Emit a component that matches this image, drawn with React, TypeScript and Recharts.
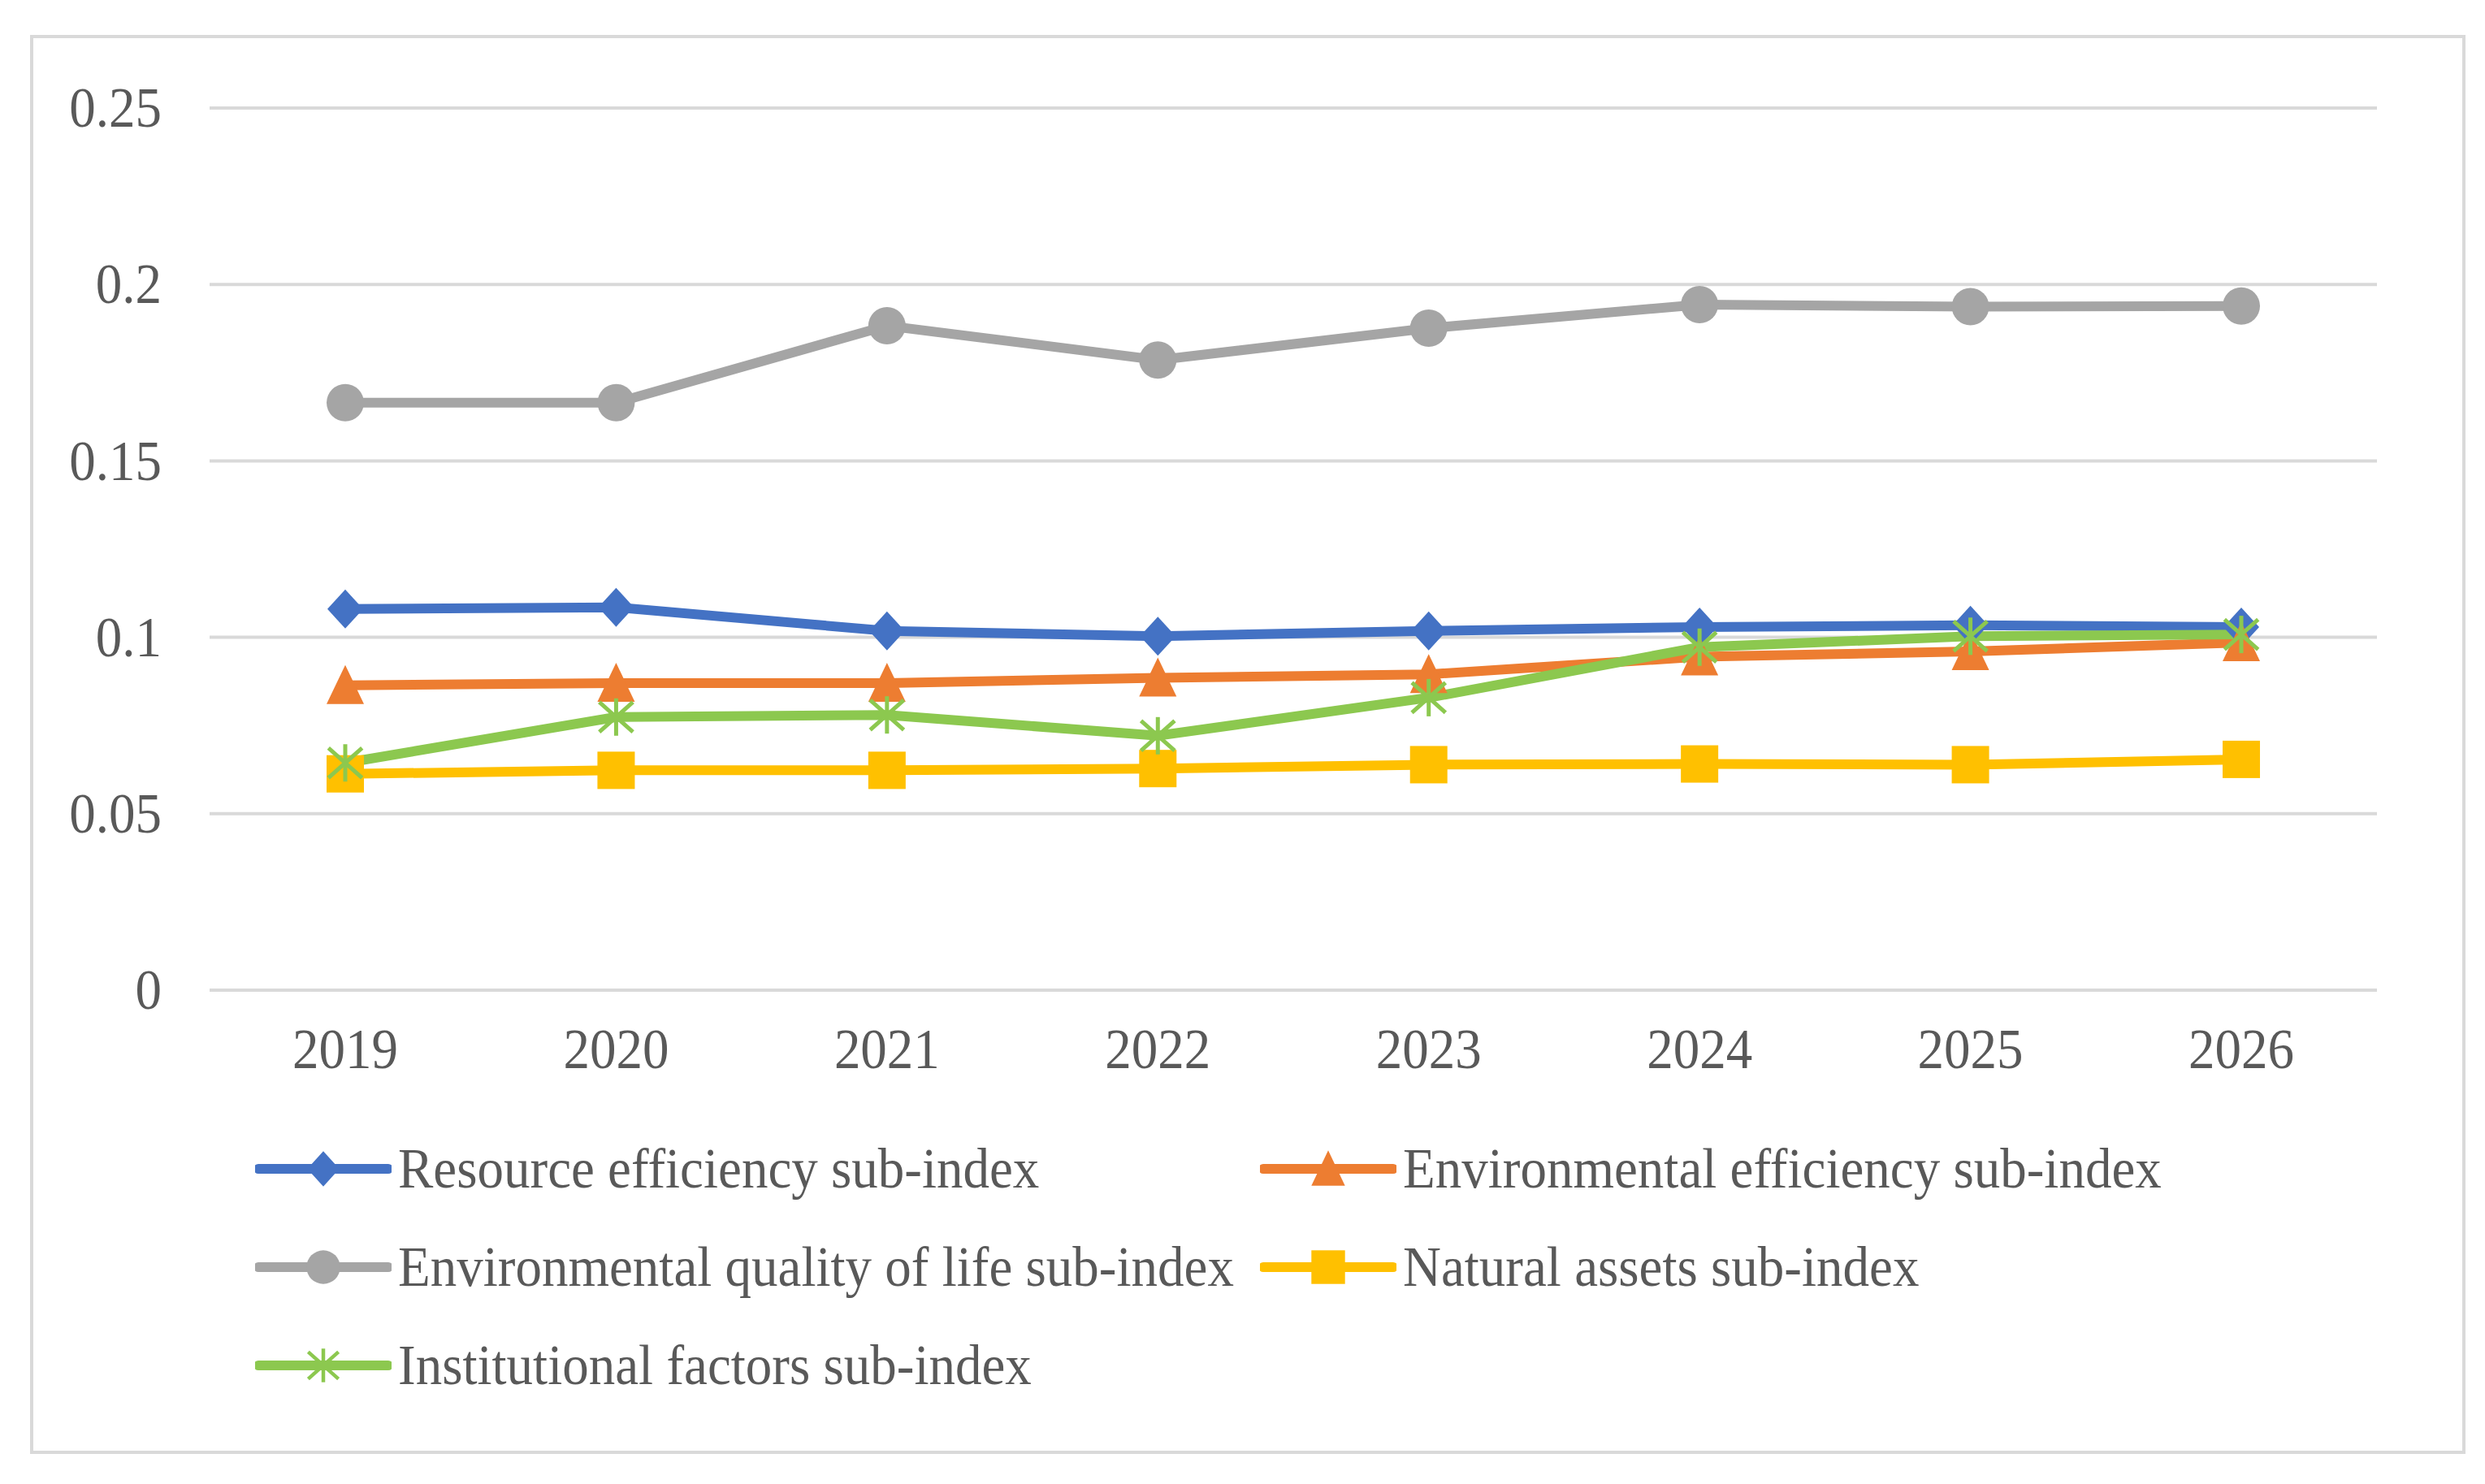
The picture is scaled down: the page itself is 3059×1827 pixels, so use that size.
import React from "react";
import { CartesianGrid, Line, LineChart, XAxis, YAxis } from "recharts";

const years = ["2019", "2020", "2021", "2022", "2023", "2024", "2025", "2026"];
const resourceEfficiency = [0.108, 0.1085, 0.1018, 0.1003, 0.1018, 0.1029, 0.1034, 0.1029];
const environmentalEfficiency = [0.0864, 0.087, 0.087, 0.0885, 0.0895, 0.0945, 0.096, 0.0985];
const qualityOfLife = [0.1665, 0.1665, 0.1883, 0.1786, 0.1876, 0.1943, 0.1937, 0.1939];
const naturalAssets = [0.0613, 0.0623, 0.0623, 0.0628, 0.0639, 0.0641, 0.0639, 0.0654];
const institutionalFactors = [0.0644, 0.0774, 0.078, 0.0721, 0.0829, 0.0972, 0.1003, 0.1008];
const yTicks = [0, 0.05, 0.1, 0.15, 0.2, 0.25];

const series = [
  { key: "resource", name: "Resource efficiency sub-index", color: "#4472C4", shape: "diamond", values: resourceEfficiency },
  { key: "envEff", name: "Environmental efficiency sub-index", color: "#ED7D31", shape: "triangle", values: environmentalEfficiency },
  { key: "quality", name: "Environmental quality of life sub-index", color: "#A5A5A5", shape: "circle", values: qualityOfLife },
  { key: "natural", name: "Natural assets sub-index", color: "#FFC000", shape: "square", values: naturalAssets },
  { key: "institutional", name: "Institutional factors sub-index", color: "#8CC84F", shape: "star", values: institutionalFactors },
];

const data = years.map((year, i) => {
  const row: any = { year };
  series.forEach((s) => {
    row[s.key] = s.values[i];
  });
  return row;
});

const FONT = "'Liberation Serif', 'Times New Roman', serif";
const TEXT = "#595959";
const STRETCH = 1.08;

const Marker = ({ cx, cy, shape, color, k = 1 }: any) => {
  if (cx == null || cy == null) return null;
  const r = 23 * k;
  switch (shape) {
    case "circle":
      return <circle cx={cx} cy={cy} r={r} fill={color} />;
    case "diamond":
      return (
        <polygon
          points={`${cx},${cy - r - 1} ${cx + r - 1},${cy} ${cx},${cy + r + 1} ${cx - r + 1},${cy}`}
          fill={color}
        />
      );
    case "triangle":
      return (
        <polygon
          points={`${cx},${cy - r - 2} ${cx + r},${cy + r} ${cx - r},${cy + r}`}
          fill={color}
        />
      );
    case "square":
      return <rect x={cx - r} y={cy - r} width={2 * r} height={2 * r} fill={color} />;
    case "star":
      return (
        <g stroke={color} strokeWidth={5 * k}>
          <line x1={cx} y1={cy - r} x2={cx} y2={cy + r} />
          <line x1={cx - r * 0.9} y1={cy - r * 0.8} x2={cx + r * 0.9} y2={cy + r * 0.8} />
          <line x1={cx - r * 0.9} y1={cy + r * 0.8} x2={cx + r * 0.9} y2={cy - r * 0.8} />
        </g>
      );
    default:
      return null;
  }
};

const YTick = ({ x, y, payload }: any) => (
  <g transform={`translate(${x},${y})`}>
    <text
      transform={`scale(1,${STRETCH})`}
      textAnchor="end"
      dy="0.33em"
      fill={TEXT}
      fontFamily={FONT}
      fontSize={65}
    >
      {payload.value}
    </text>
  </g>
);

const XTick = ({ x, y, payload }: any) => (
  <g transform={`translate(${x},${y})`}>
    <text
      transform={`scale(1,${STRETCH})`}
      textAnchor="middle"
      dy="0.71em"
      fill={TEXT}
      fontFamily={FONT}
      fontSize={65}
    >
      {payload.value}
    </text>
  </g>
);

const LegendItem = ({ s }: any) => (
  <div style={{ display: "flex", alignItems: "center", height: 121 }}>
    <svg width={168} height={56} style={{ marginRight: 8, flex: "none", marginLeft: -4 }}>
      <line x1={4} y1={28} x2={164} y2={28} stroke={s.color} strokeWidth={12} strokeLinecap="round" />
      <Marker cx={84} cy={28} shape={s.shape} color={s.color} k={0.9} />
    </svg>
    <span
      style={{
        fontFamily: FONT,
        fontSize: 65,
        color: TEXT,
        whiteSpace: "nowrap",
        display: "inline-block",
        transform: `scaleY(${STRETCH})`,
        lineHeight: 1,
      }}
    >
      {s.name}
    </span>
  </div>
);

export default function App() {
  return (
    <div style={{ position: "absolute", left: 0, top: 0, width: 3059, height: 1827, background: "#fff" }}>
      <div
        style={{
          position: "absolute",
          left: 37,
          top: 43,
          width: 2998,
          height: 1747,
          border: "4px solid #d9d9d9",
          boxSizing: "border-box",
        }}
      />
      <div style={{ position: "absolute", left: 0, top: 0 }}>
        <LineChart
          width={3059}
          height={1827}
          data={data}
          margin={{ top: 133, right: 133, bottom: 0, left: 58 }}
        >
          <CartesianGrid vertical={false} stroke="#d9d9d9" strokeWidth={4} />
          <XAxis
            dataKey="year"
            axisLine={false}
            tickLine={false}
            tickSize={0}
            tickMargin={46}
            height={608}
            padding={{ left: 167, right: 167 }}
            tick={<XTick />}
            interval={0}
          />
          <YAxis
            domain={[0, 0.25]}
            ticks={yTicks}
            axisLine={false}
            tickLine={false}
            tickSize={0}
            tickMargin={59}
            width={200}
            tick={<YTick />}
            interval={0}
          />
          {series.map((s) => (
            <Line
              key={s.key}
              dataKey={s.key}
              name={s.name}
              stroke={s.color}
              strokeWidth={12}
              isAnimationActive={false}
              dot={(p: any) => <Marker key={`${s.key}-${p.index}`} cx={p.cx} cy={p.cy} shape={s.shape} color={s.color} />}
              activeDot={false}
            />
          ))}
        </LineChart>
      </div>
      <div
        style={{
          position: "absolute",
          left: 318,
          top: 1378,
          display: "grid",
          gridTemplateColumns: "1237px auto",
        }}
      >
        {series.map((s) => (
          <LegendItem key={s.key} s={s} />
        ))}
      </div>
    </div>
  );
}
